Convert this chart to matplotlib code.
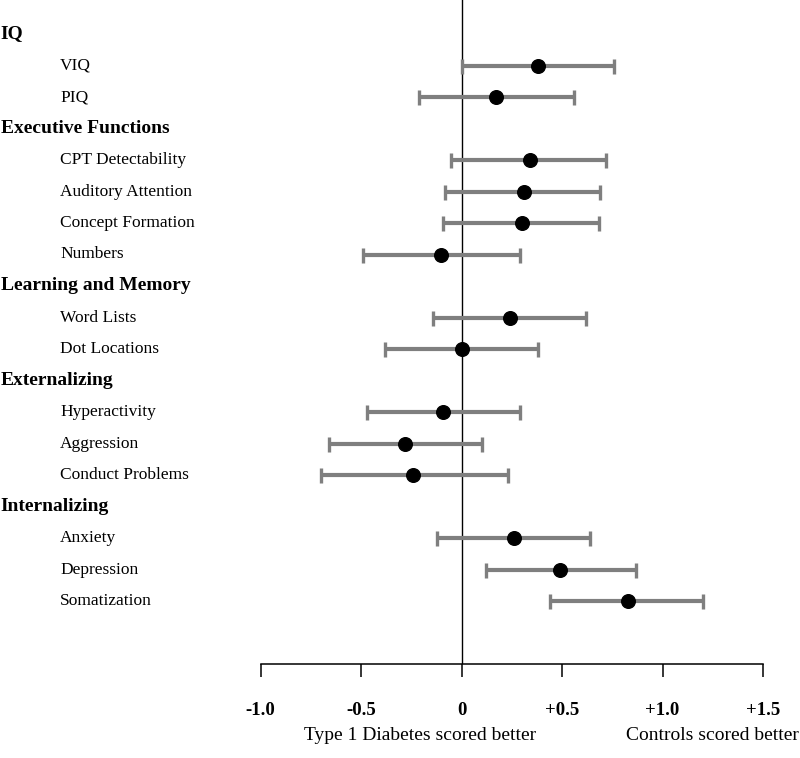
import matplotlib.pyplot as plt
import matplotlib.transforms as mtransforms

plt.rcParams['font.family'] = ['Liberation Serif', 'DejaVu Serif']

# rows in top-to-bottom order; headers have no estimate
rows = ["IQ", "VIQ", "PIQ",
        "Executive Functions", "CPT Detectability", "Auditory Attention",
        "Concept Formation", "Numbers",
        "Learning and Memory", "Word Lists", "Dot Locations",
        "Externalizing", "Hyperactivity", "Aggression", "Conduct Problems",
        "Internalizing", "Anxiety", "Depression", "Somatization"]
headers = ["IQ", "Executive Functions", "Learning and Memory",
           "Externalizing", "Internalizing"]

measures = ["VIQ", "PIQ", "CPT Detectability", "Auditory Attention",
            "Concept Formation", "Numbers", "Word Lists", "Dot Locations",
            "Hyperactivity", "Aggression", "Conduct Problems",
            "Anxiety", "Depression", "Somatization"]
effect = [0.38, 0.17, 0.34, 0.31, 0.30, -0.10, 0.24, 0.0,
          -0.09, -0.28, -0.24, 0.26, 0.49, 0.83]
ci_low = [0.0, -0.21, -0.05, -0.08, -0.09, -0.49, -0.14, -0.38,
          -0.47, -0.66, -0.70, -0.12, 0.12, 0.44]
ci_high = [0.76, 0.56, 0.72, 0.69, 0.685, 0.29, 0.62, 0.38,
           0.29, 0.10, 0.23, 0.64, 0.87, 1.20]

xticks = [-1.0, -0.5, 0, 0.5, 1.0, 1.5]
xticklabels = ["-1.0", "-0.5", "0", "+0.5", "+1.0", "+1.5"]

fig = plt.figure(figsize=(8, 7.58), dpi=100)
ax = fig.add_axes([0, (758 - 664) / 758, 1, 664 / 758])

ypos = [rows.index(m) for m in measures]
lo = [e - l for e, l in zip(effect, ci_low)]
hi = [h - e for e, h in zip(effect, ci_high)]
ax.errorbar(effect, ypos, xerr=[lo, hi], fmt='none', ecolor='#7f7f7f',
            elinewidth=3, capsize=5.4, capthick=2.4, zorder=2)
ax.plot(effect, ypos, 'o', color='black', markersize=9.8, zorder=3)

ax.axvline(0, color='black', linewidth=1.0, zorder=1)

ax.set_xlim(-461.5 / 201, (800 - 461.5) / 201)
ax.set_ylim((664 - 34) / 31.5, -34 / 31.5)

trans = mtransforms.blended_transform_factory(ax.transAxes, ax.transData)
for i, r in enumerate(rows):
    if r in headers:
        ax.text(0.001, i, r, transform=trans, ha='left', va='center',
                fontsize=14, fontweight='bold')
    else:
        ax.text(0.075, i, r, transform=trans, ha='left', va='center',
                fontsize=12.5)

for s in ['left', 'top', 'right']:
    ax.spines[s].set_visible(False)
ax.spines['bottom'].set_bounds(-1.0, 1.5)
ax.spines['bottom'].set_linewidth(1.1)
ax.set_yticks([])
ax.set_xticks(xticks)
ax.set_xticklabels(xticklabels, fontsize=13.5, fontweight='bold')
ax.tick_params(axis='x', direction='out', length=9.5, width=1.1, pad=18)

fig.text(420 / 800, 1 - 736 / 758, "Type 1 Diabetes scored better",
         ha='center', va='center', fontsize=14)
fig.text(799 / 800, 1 - 736 / 758, "Controls scored better",
         ha='right', va='center', fontsize=14)

fig.savefig("out.png", dpi=100)
